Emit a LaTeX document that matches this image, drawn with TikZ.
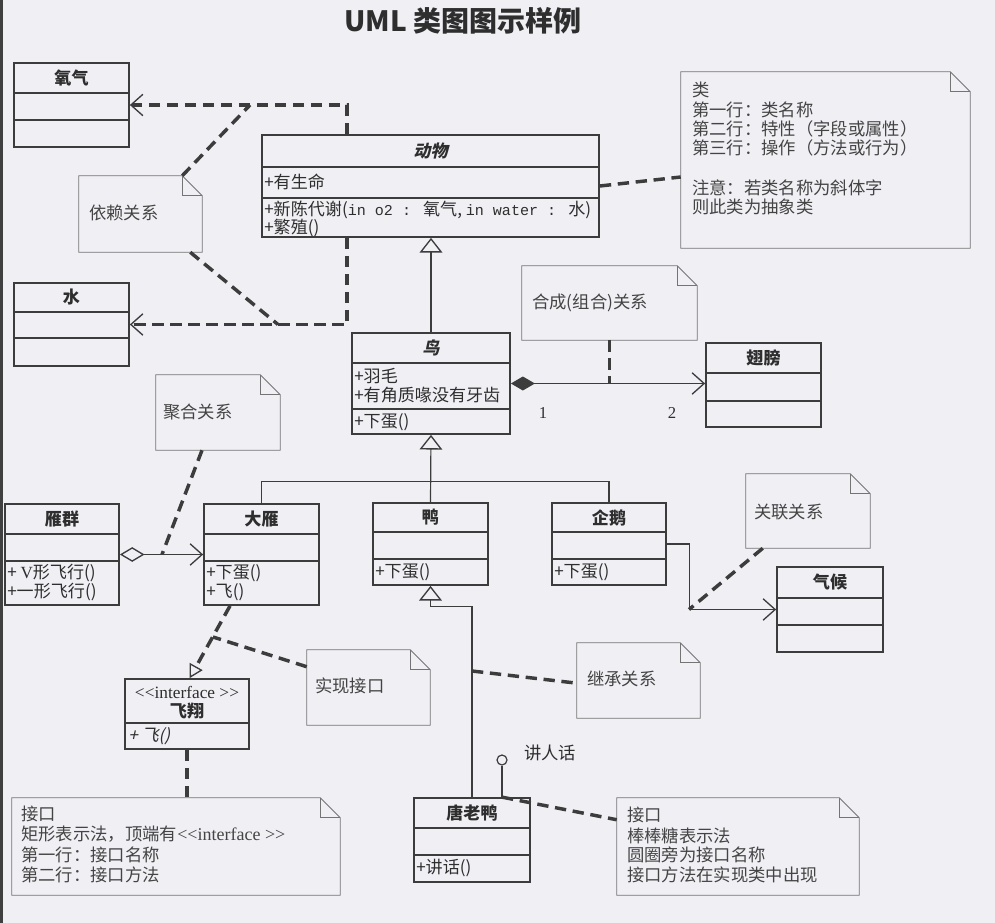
\documentclass[tikz,border=0pt]{standalone}
\usepackage{fontspec}
\setmainfont{Noto Sans CJK SC}
\newfontfamily\slantfont[FakeSlant=0.22]{Noto Sans CJK SC}
\newfontfamily\monofont{Liberation Mono}
\newfontfamily\seriffont{Liberation Serif}
\usetikzlibrary{arrows.meta,fit,calc}
\definecolor{bg}{HTML}{F0EFF4}
\definecolor{ink}{HTML}{3C3C3C}
\definecolor{txt}{HTML}{2E2E2E}
\definecolor{notec}{HTML}{747474}
\definecolor{notetxt}{HTML}{444444}
\tikzset{
  cls/.style={draw=ink, line width=1.3pt, inner sep=0pt},
  divline/.style={draw=ink, line width=1.1pt},
  notestyle/.style={draw=notec, line width=0.7pt},
  dep/.style={draw=ink, line width=2.6pt, dash pattern=on 8.5pt off 5pt},
  conn/.style={draw=ink, line width=0.9pt},
  barb/.style={-{Straight Barb[length=9pt,width=16pt,line width=1pt]}},
  inhtip/.style={-{Triangle[open,length=11pt,width=17pt,line width=1pt]}},
  lbl/.style={text=txt, font=\fontsize{12.8}{14}\selectfont, inner sep=0pt},
  nlbl/.style={text=notetxt, font=\fontsize{13}{14}\selectfont, inner sep=0pt, anchor=west},
  mem/.style={lbl, anchor=west},
  cname/.style={text=txt, font=\fontsize{12.8}{14}\selectfont\bfseries, inner sep=0pt},
  aname/.style={text=txt, font=\fontsize{12.8}{14}\selectfont\slantfont\bfseries, inner sep=0pt}
}
\newcommand\umlclass[7]{%
  \node[cls, fit={(#2,#3) (#4,#5)}] (#1) {};
  \draw[divline] (#2,#6) -- (#4,#6);
  \draw[divline] (#2,#7) -- (#4,#7);
}
\newcommand\notebox[5]{%
  \node[inner sep=0pt, fit={(#2,#3) (#4,#5)}] (#1) {};
  \draw[notestyle] (#1.north west) -- ([xshift=-15pt]#1.north east) -- ([yshift=-15pt]#1.north east) -- (#1.south east) -- (#1.south west) -- cycle;
  \draw[notestyle] ([xshift=-15pt]#1.north east) |- ([yshift=-15pt]#1.north east);
}
\begin{document}
\begin{tikzpicture}[x=0.75pt,y=-0.75pt]
\useasboundingbox (0,0) rectangle (995,923);
\fill[bg] (0,0) rectangle (995,923);
\fill[black!75] (0,0) rectangle (3,923);

% title
\node[text=txt, font=\fontsize{21}{24}\selectfont\bfseries, inner sep=0pt] (title) at (463,21) {UML 类图图示样例};

% classes
\umlclass{yangqi}{14}{63}{129}{147}{93}{120}
\umlclass{shui}{14}{283}{129}{366}{312}{338}
\umlclass{dongwu}{262}{135}{599}{237}{167}{198}
\umlclass{niao}{352}{333}{510}{434}{363}{409}
\umlclass{chibang}{706}{343}{821}{427}{373}{401}
\umlclass{yanqun}{5}{504}{119}{605}{534}{561}
\umlclass{dayan}{204}{504}{319}{605}{534}{561}
\umlclass{ya}{373}{503}{488}{585}{532}{559}
\umlclass{qie}{552}{503}{666}{585}{532}{559}
\umlclass{qihou}{777}{567}{883}{652}{598}{625}
\umlclass{feixiang}{125}{679}{249}{749}{723}{723}
\umlclass{tang}{414}{798}{530}{882}{828}{855}

% class texts
\node[cname] at (71.5,78) {氧气};
\node[cname] at (71.5,297.5) {水};
\node[aname] at (430.5,151) {动物};
\node[mem] at (264,182) {+有生命};
\node[mem] at (264,209.5) {+新陈代谢({\monofont\fontsize{11.3}{14}\selectfont in o2 : }氧气, {\monofont\fontsize{11.3}{14}\selectfont in water : }水)};
\node[mem] at (264,227.5) {+繁殖()};
\node[aname] at (431,348) {鸟};
\node[mem] at (354,376) {+羽毛};
\node[mem] at (354,395.5) {+有角质喙没有牙齿};
\node[mem] at (354,422) {+下蛋()};
\node[cname] at (763.5,358) {翅膀};
\node[cname] at (62,519) {雁群};
\node[mem] at (7,573) {+ {\seriffont V}形飞行()};
\node[mem] at (7,592) {+一形飞行()};
\node[cname] at (261.5,519) {大雁};
\node[mem] at (206,573) {+下蛋()};
\node[mem] at (206,592) {+飞()};
\node[cname] at (430.5,517.5) {鸭};
\node[mem] at (375,572) {+下蛋()};
\node[cname] at (609,517.5) {企鹅};
\node[mem] at (554,572) {+下蛋()};
\node[cname] at (830,582.5) {气候};
\node[lbl, font=\fontsize{13}{14}\seriffont] at (187,692) {<<interface >>};
\node[cname] at (187,710.5) {飞翔};
\node[mem, font=\fontsize{12.8}{14}\slantfont] at (128,736) {+ 飞()};
\node[cname] at (472,813) {唐老鸭};
\node[mem] at (416,868) {+讲话()};

% notes
\notebox{yilai}{79}{176}{202}{252}
\notebox{lei}{681}{72}{970}{248}
\notebox{hecheng}{522}{266}{697}{340}
\notebox{juhe}{156}{375}{280}{450}
\notebox{guanlian}{746}{474}{870}{548}
\notebox{shixian}{307}{650}{430}{725}
\notebox{jicheng}{577}{643}{700}{718}
\notebox{jiekouA}{12}{798}{340}{895}
\notebox{jiekouB}{617}{798}{859}{895}

\node[nlbl] at (89,213) {依赖关系};
\node[nlbl] at (692,90) {类};
\node[nlbl] at (692,110) {第一行：类名称};
\node[nlbl] at (692,129) {第二行：特性（字段或属性）};
\node[nlbl] at (692,148) {第三行：操作（方法或行为）};
\node[nlbl] at (692,188) {注意：若类名称为斜体字};
\node[nlbl] at (692,207) {则此类为抽象类};
\node[nlbl] at (532,303) {合成(组合)关系};
\node[nlbl] at (163,412) {聚合关系};
\node[nlbl] at (754,512) {关联关系};
\node[nlbl] at (587,679) {继承关系};
\node[nlbl] at (315,686) {实现接口};
\node[nlbl] at (21,814) {接口};
\node[nlbl] at (21,834) {矩形表示法，顶端有{\seriffont\fontsize{13.5}{14}\selectfont <<interface >>}};
\node[nlbl] at (21,855) {第一行：接口名称};
\node[nlbl] at (21,875) {第二行：接口方法};
\node[nlbl] at (627,815) {接口};
\node[nlbl] at (627,836) {棒棒糖表示法};
\node[nlbl] at (627,855) {圆圈旁为接口名称};
\node[nlbl] at (627,875) {接口方法在实现类中出现};

% dependency
\draw[dep, barb] ([xshift=-62.6pt]dongwu.north) |- (yangqi.east);
\draw[dep, barb] ([xshift=-62.6pt]dongwu.south) |- (shui.east);
\coordinate (depA) at (250,105);
\coordinate (depB) at (278,324.5);
\draw[dep] ([xshift=-15pt]yilai.north east) -- (depA);
\draw[dep] ([xshift=-9pt]yilai.south east) -- (depB);

% class note
\draw[dep] (dongwu.east) -- ([yshift=-12.75pt]lei.west);

% generalization bird -> animal
\draw[conn, inhtip] (niao.north) -- (niao.north |- dongwu.south);

% composition
\draw[conn, {Diamond[length=18pt,width=10.5pt]}-{Straight Barb[length=9pt,width=16pt,line width=1pt]}] (niao.east) -- (niao.east -| chibang.west);
\draw[dep] (hecheng.south) -- (hecheng.south |- niao.east);
\node[lbl, font=\fontsize{12.5}{14}\seriffont] (one) at (543,413) {1};
\node[lbl, font=\fontsize{12.5}{14}\seriffont] (two) at (672,413) {2};

% generalization tree to bird
\draw[conn, inhtip] (ya.north) -- (niao.south);
\draw[conn] (dayan.north) |- ([yshift=15.75pt]ya.north) -| (qie.north);

% aggregation
\draw[conn, {Diamond[open,length=18.5pt,width=11pt,line width=1pt]}-{Straight Barb[length=9pt,width=16pt,line width=1pt]}] (yanqun.east) -- (dayan.west);
\coordinate (aggA) at (162,554.5);
\draw[dep] ([xshift=-12pt]juhe.south) -- (aggA);

% association
\draw[conn, barb] (qie.east) -- ++(23,0) |- (qihou.west);
\coordinate (assA) at (689,609.5);
\draw[dep] ([xshift=12.75pt]guanlian.south west) -- (assA);

% realization
\draw[dep, -{Triangle[open,length=10pt,width=11pt,line width=1pt]}] ([xshift=-23.6pt]dayan.south) -- ([xshift=2pt]feixiang.north);
\coordinate (realA) at (213,637);
\draw[dep] ([yshift=-12.75pt]shixian.north west) -- (realA);
\draw[dep] (feixiang.south) -- (feixiang.south |- jiekouA.north);

% tang -> duck
\draw[conn, inhtip] (tang.north) |- ([yshift=-15.75pt]ya.south) -- (ya.south);
\coordinate (inhA) at (472,671);
\draw[dep] (inhA) -- ([yshift=-2pt]jicheng.west);

% lollipop
\node[circle, draw=ink, line width=0.9pt, minimum size=7.5pt, inner sep=0pt] (lolli) at (502,760) {};
\draw[conn] (lolli.south) -- (lolli.south |- tang.north);
\node[nlbl, text=txt] (talk) at (524,753) {讲人话};
\draw[dep] (lolli.south |- tang.north) -- ([yshift=-16.5pt]jiekouB.north west);
\end{tikzpicture}
\end{document}
